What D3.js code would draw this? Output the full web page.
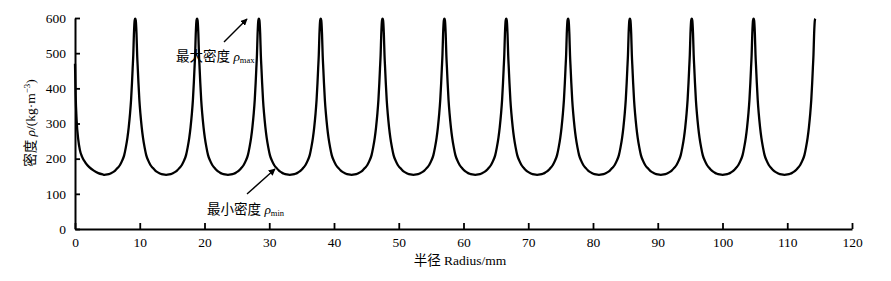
<!DOCTYPE html>
<html>
<head>
<meta charset="utf-8">
<script src="https://cdn.jsdelivr.net/npm/d3@7"></script>
<style>
  body { margin: 0; background: #fff; }
  text { font-family: "Liberation Serif", "Noto Sans CJK SC", serif; fill: #000; }
  .latin { font-family: "Liberation Serif", serif; }
</style>
</head>
<body>
<svg id="chart"></svg>
<script>
// constants
const width = 891;
const height = 281;
const margin = { left: 75, right: 39, top: 18, bottom: 52 };

// data
const xTicks = [0, 10, 20, 30, 40, 50, 60, 70, 80, 90, 100, 110, 120];
const yTicks = [0, 100, 200, 300, 400, 500, 600];
// x of every density peak (mm)
const peakX = [9.3, 18.85, 28.4, 37.95, 47.5, 57.05, 66.6, 76.15, 85.7, 95.25, 104.8, 114.35];
// shape of one half period: distance from a peak (mm) and density
const profileD = [0, 0.08, 0.2, 0.3, 0.4, 0.5, 0.64, 0.8, 1.0, 1.2, 1.45, 1.7, 2.0, 2.35, 2.7, 3.1, 3.5, 3.9, 4.3, 4.77];
const profileV = [598, 594, 555, 495, 455, 415, 367, 328, 290, 260, 232, 210, 195, 182, 174, 166, 161, 157, 155, 154];
// the first half period, starting at the axis
const startX = [0, 0.1, 0.25, 0.5, 0.75, 1.1, 1.6, 2.2, 2.9, 3.6, 4.3];
const startV = [470, 380, 310, 255, 225, 205, 189, 176, 166, 159, 155];

const svg = d3.select('svg#chart').attr('width', width).attr('height', height);
const visWidth = width - margin.left - margin.right;
const visHeight = height - margin.top - margin.bottom;
const viz = svg.append('g').attr('transform', 'translate(' + margin.left + ',' + margin.top + ')');

const xScale = d3.scaleLinear().domain([0, 120]).range([0, visWidth]);
const yScale = d3.scaleLinear().domain([0, 600]).range([visHeight, 0]);

// build the series from the read values
let series = startX.map((x, i) => [x, startV[i]]);
// right half of the first period, climbing to the first peak
for (let j = profileD.length - 1; j >= 0; j--) series.push([peakX[0] - profileD[j], profileV[j]]);
for (let k = 0; k < peakX.length - 1; k++) {
  for (let j = 1; j < profileD.length; j++) series.push([peakX[k] + profileD[j], profileV[j]]);
  for (let j = profileD.length - 2; j >= 0; j--) series.push([peakX[k + 1] - profileD[j], profileV[j]]);
}
series = series.filter((d, i) => i == 0 || d[0] > series[i - 1][0]);

// axes
const xAxis = d3.axisBottom(xScale).tickValues(xTicks).tickSizeInner(-6).tickSizeOuter(0).tickPadding(8);
const gx = viz.append('g').attr('transform', 'translate(0,' + visHeight + ')').call(xAxis);
const yAxis = d3.axisLeft(yScale).tickValues(yTicks).tickSizeInner(-5).tickSizeOuter(0).tickPadding(9);
const gy = viz.append('g').call(yAxis);
[gx, gy].forEach(g => {
  g.attr('font-size', 13.5).attr('font-family', '"Liberation Serif", serif');
  g.select('.domain').attr('stroke', '#000').attr('stroke-width', 2);
  g.selectAll('.tick line').attr('stroke', '#000').attr('stroke-width', 1.8);
});

// curve
const line = d3.line().x(d => xScale(d[0])).y(d => yScale(d[1])).curve(d3.curveMonotoneX);
viz.append('path').datum(series)
  .attr('d', line)
  .attr('fill', 'none')
  .attr('stroke', '#000')
  .attr('stroke-width', 2.3)
  .attr('stroke-linejoin', 'round');

// axis titles
const xTitle = svg.append('text')
  .attr('x', 460).attr('y', 265)
  .attr('text-anchor', 'middle').attr('font-size', 13.5);
xTitle.append('tspan').text('半径 ');
xTitle.append('tspan').attr('class', 'latin').text('Radius/mm');

const yTitle = svg.append('text')
  .attr('transform', 'translate(35,123) rotate(-90)')
  .attr('text-anchor', 'middle').attr('font-size', 13.5);
yTitle.append('tspan').text('密度 ');
yTitle.append('tspan').attr('class', 'latin').attr('font-style', 'italic').text('ρ');
yTitle.append('tspan').attr('class', 'latin').text('/(kg·m');
yTitle.append('tspan').attr('class', 'latin').attr('font-size', 9).attr('dy', -5).text('−3');
yTitle.append('tspan').attr('class', 'latin').attr('dy', 5).text(')');

// annotations
svg.append('defs').append('marker')
  .attr('id', 'arrow').attr('viewBox', '0 0 10 10')
  .attr('refX', 9).attr('refY', 5)
  .attr('markerWidth', 7).attr('markerHeight', 7)
  .attr('markerUnits', 'userSpaceOnUse')
  .attr('orient', 'auto')
  .append('path').attr('d', 'M0,0 L10,5 L0,10 Z').attr('fill', '#000');

svg.append('line')
  .attr('x1', 224).attr('y1', 42).attr('x2', 247).attr('y2', 19)
  .attr('stroke', '#000').attr('stroke-width', 1.4).attr('marker-end', 'url(#arrow)');
const maxLabel = svg.append('text').attr('x', 176).attr('y', 61).attr('font-size', 13.5);
maxLabel.append('tspan').text('最大密度 ');
maxLabel.append('tspan').attr('class', 'latin').attr('font-style', 'italic').text('ρ');
maxLabel.append('tspan').attr('class', 'latin').attr('font-size', 8.5).attr('dy', 2).text('max');

svg.append('line')
  .attr('x1', 247).attr('y1', 194).attr('x2', 275).attr('y2', 169)
  .attr('stroke', '#000').attr('stroke-width', 1.4).attr('marker-end', 'url(#arrow)');
const minLabel = svg.append('text').attr('x', 207).attr('y', 214).attr('font-size', 13.5);
minLabel.append('tspan').text('最小密度 ');
minLabel.append('tspan').attr('class', 'latin').attr('font-style', 'italic').text('ρ');
minLabel.append('tspan').attr('class', 'latin').attr('font-size', 8.5).attr('dy', 2).text('min');
</script>
</body>
</html>
